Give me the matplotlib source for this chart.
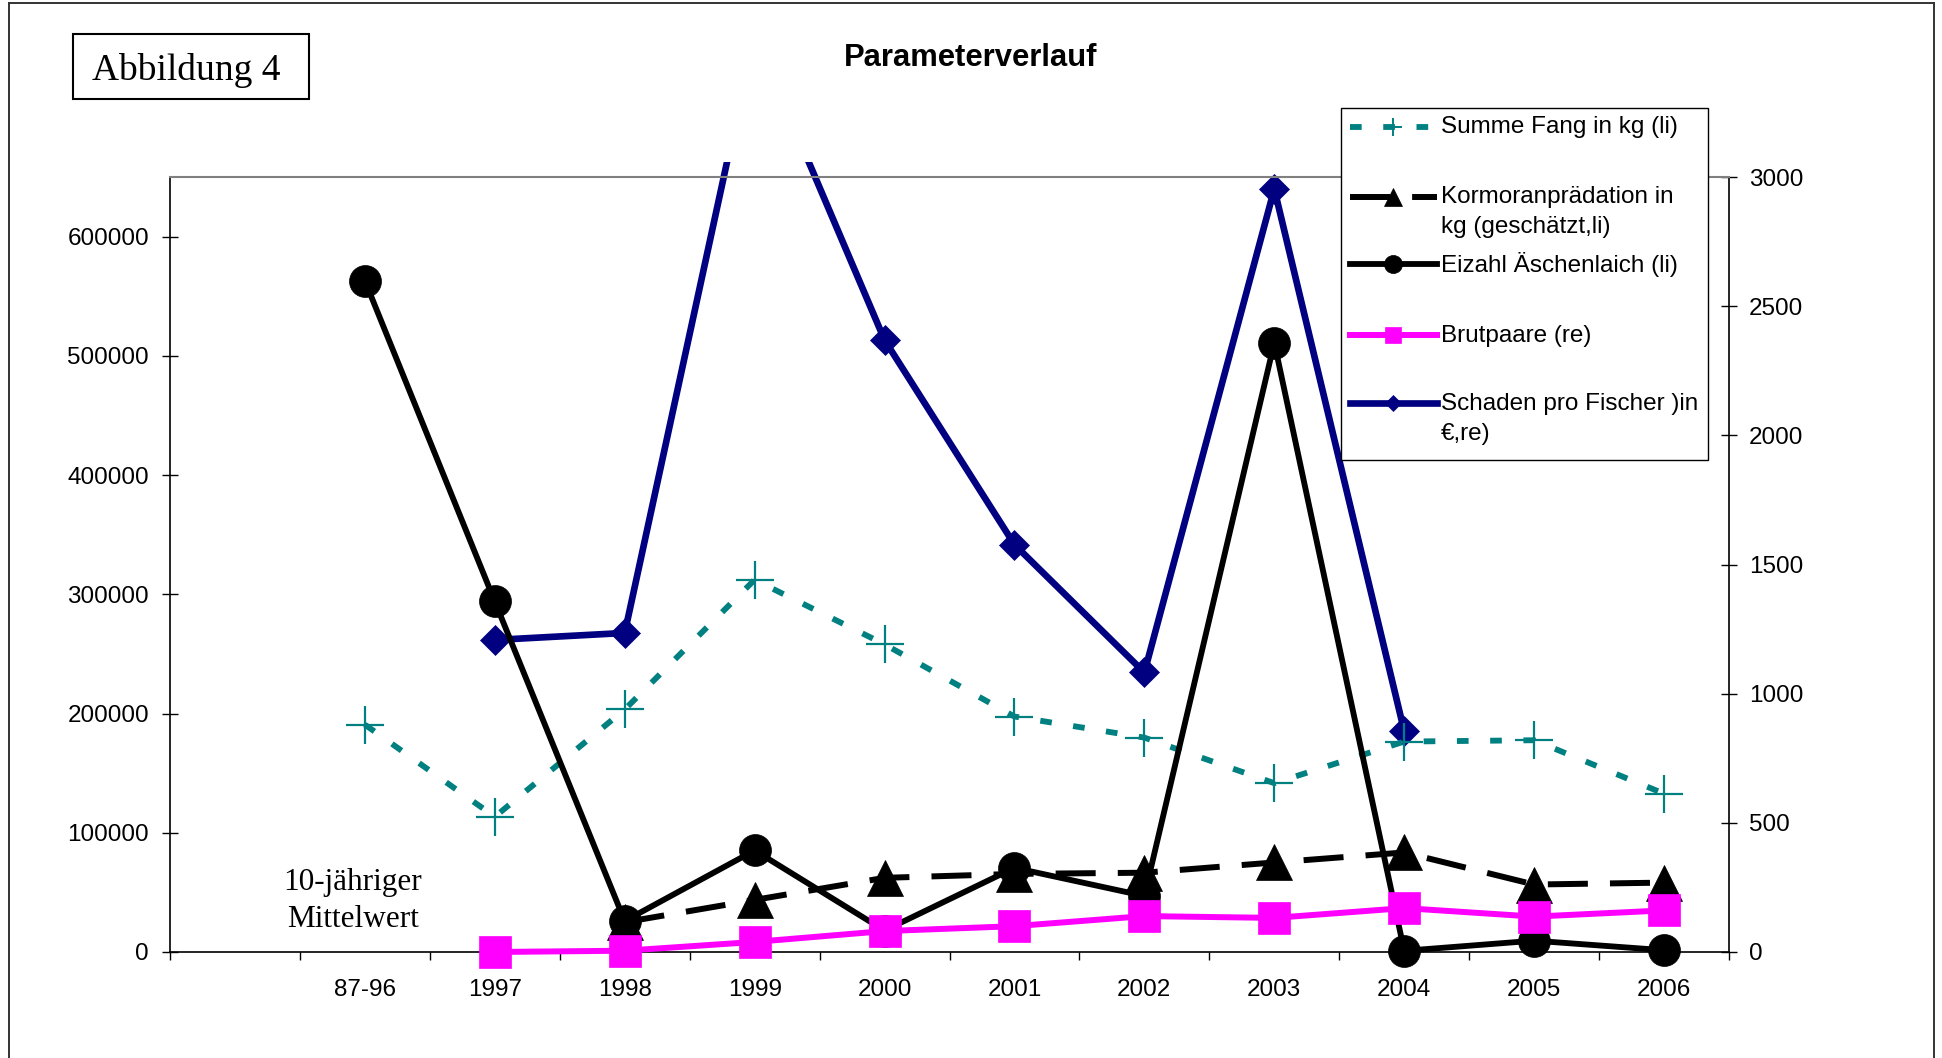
import numpy as np
import matplotlib
matplotlib.use("Agg")
import matplotlib.pyplot as plt
from matplotlib.lines import Line2D
from matplotlib.patches import Rectangle

W, H = 1942, 1058

# --- data ---
categories = ["", "87-96", "1997", "1998", "1999", "2000", "2001",
              "2002", "2003", "2004", "2005", "2006"]
nan = np.nan
summe_fang = [nan, 190700, 113400, 203400, 312200, 258000, 197500,
              179800, 141600, 176500, 177600, 132800]
kormoran = [nan, nan, nan, 25000, 43700, 62200, 65500,
            66500, 75100, 83500, 56600, 58200]
eizahl = [nan, 563000, 294000, 26000, 85200, 18000, 70600,
          47000, 511000, 1000, 9500, 1500]
brutpaare = [nan, nan, 0, 5, 39, 81, 100, 139, 132, 170, 137, 161]
schaden = [nan, nan, 1208, 1235, 3550, 2369, 1577, 1082, 2954, 855, nan, nan]

left_ticks = [0, 100000, 200000, 300000, 400000, 500000, 600000]
right_ticks = [0, 500, 1000, 1500, 2000, 2500, 3000]

labels = ["Summe Fang in kg (li)",
          "Kormoranprädation in\nkg (geschätzt,li)",
          "Eizahl Äschenlaich (li)",
          "Brutpaare (re)",
          "Schaden pro Fischer )in\n€,re)"]

TEAL = "#008080"
NAVY = "#000080"
MAGENTA = "#FF00FF"
SANS = "Liberation Sans"
SERIF = "Liberation Serif"

plt.rcParams["font.family"] = [SANS, "DejaVu Sans"]


def fx(x):
    return x / W


def fy(y):
    return 1 - y / H


styles = [
    dict(color=TEAL, lw=4.2, ls=(0, (2.0, 3.7)), marker="+", mew=1.6),
    dict(color="black", lw=4.3, ls=(0, (6.7, 3.7)), marker="^", mew=0.5),
    dict(color="black", lw=4.2, ls="-", marker="o", mew=0.5),
    dict(color=MAGENTA, lw=4.3, ls="-", marker="s", mew=0.5),
    dict(color=NAVY, lw=4.8, ls="-", marker="D", mew=0.5),
]
big_ms = [27, 26, 23, 23, 15]
small_ms = [13, 13, 13, 12, 8.5]

fig = plt.figure(figsize=(W / 100, H / 100), dpi=100)
fig.patch.set_facecolor("white")

ax = fig.add_axes([fx(170), fy(952), (1729 - 170) / W, (952 - 177) / H])
ax2 = ax.twinx()
ax3 = ax.twinx()
ax2.set_zorder(1)
ax.set_zorder(2)
ax3.set_zorder(3)
ax.patch.set_visible(False)
ax2.patch.set_facecolor("white")

x = np.arange(len(categories))

# right axis, drawn beneath the left-axis series
ln, = ax2.plot(x, schaden, ms=big_ms[4], mec=NAVY, **styles[4])
ln.set_clip_path(Rectangle((0, 0), 1, 1.0194, transform=ax2.transAxes))

for vals, st, ms in zip([summe_fang, kormoran, eizahl], styles[:3], big_ms[:3]):
    ax.plot(x, vals, ms=ms, mec=st["color"], clip_on=False, **st)

ax3.plot(x, brutpaare, ms=big_ms[3], mec=MAGENTA, clip_on=False, **styles[3])

# axes
ax.set_xlim(-0.5, len(categories) - 0.5)
ax.set_ylim(0, 650000)
ax2.set_ylim(0, 3000)
ax3.set_ylim(0, 3000)
ax3.axis("off")

ax.set_xticks(x)
ax.set_xticklabels(categories)
ax.set_xticks(np.arange(-0.5, len(categories), 1), minor=True)
ax.tick_params(axis="x", which="major", length=0, pad=19.5, labelsize=17.5)
ax.tick_params(axis="x", which="minor", direction="out", length=6, width=1)
ax.set_yticks(left_ticks)
ax.set_yticklabels([str(v) for v in left_ticks])
ax.tick_params(axis="y", direction="inout", length=11, width=1, pad=9.6,
               labelsize=17.5)
ax2.set_yticks(right_ticks)
ax2.set_yticklabels([str(v) for v in right_ticks])
ax2.tick_params(axis="y", direction="inout", length=12, width=1, pad=8.4,
                labelsize=17.5)

for s in ["left", "bottom"]:
    ax.spines[s].set_color("black")
    ax.spines[s].set_linewidth(1.2)
ax.spines["top"].set_color("#808080")
ax.spines["top"].set_linewidth(1.5)
ax.spines["right"].set_visible(False)
for s in ["left", "top", "bottom"]:
    ax2.spines[s].set_visible(False)
ax2.spines["right"].set_linewidth(1.2)

# title and annotations
fig.text(fx(971), fy(66.5), "Parameterverlauf", ha="center", va="baseline",
         fontsize=22.3, fontweight="bold", family=SANS)
fig.text(fx(353), fy(890), "10-jähriger", ha="center", va="baseline",
         fontsize=22.5, family=SERIF)
fig.text(fx(353), fy(927), "Mittelwert", ha="center", va="baseline",
         fontsize=22.5, family=SERIF)

fig.add_artist(Rectangle((fx(73), fy(99)), (309 - 73) / W, (99 - 34) / H,
                         transform=fig.transFigure, fill=False,
                         edgecolor="black", lw=1.5, zorder=10))
fig.text(fx(186), fy(80), "Abbildung 4", ha="center", va="baseline",
         fontsize=27, family=SERIF)

# page border
for xs, ys in [([9, 9], [3, H + 5]), ([9, 1934], [3, 3]), ([1934, 1934], [3, H + 5])]:
    fig.add_artist(Line2D([fx(v) for v in xs], [fy(v) for v in ys],
                          transform=fig.transFigure, color="#333333", lw=1.4))

# legend box, drawn by hand so the handles sit on the first text line
fig.add_artist(Rectangle((fx(1341), fy(460)), (1708 - 1341) / W, (460 - 108) / H,
                         transform=fig.transFigure, facecolor="white",
                         edgecolor="black", lw=1.0, zorder=10))
handle_y = [127, 197, 264, 335, 403]
text_base = [133, 203, 272, 342, 410]
line_gap = 30
for lab, st, ms, hy, tb in zip(labels, styles, small_ms, handle_y, text_base):
    fig.add_artist(Line2D([fx(1350), fx(1437)], [fy(hy), fy(hy)],
                          transform=fig.transFigure, zorder=11,
                          color=st["color"], lw=st["lw"], ls=st["ls"]))
    fig.add_artist(Line2D([fx(1393)], [fy(hy)], transform=fig.transFigure,
                          zorder=12, color=st["color"], marker=st["marker"],
                          ms=ms, mew=st["mew"] if st["marker"] != "+" else 1.4,
                          mec=st["color"], ls="none"))
    for k, part in enumerate(lab.split("\n")):
        fig.text(fx(1441), fy(tb + k * line_gap), part, ha="left", va="baseline",
                 fontsize=17.5, family=SANS, zorder=13)

fig.savefig("out.png", dpi=100, facecolor="white")
